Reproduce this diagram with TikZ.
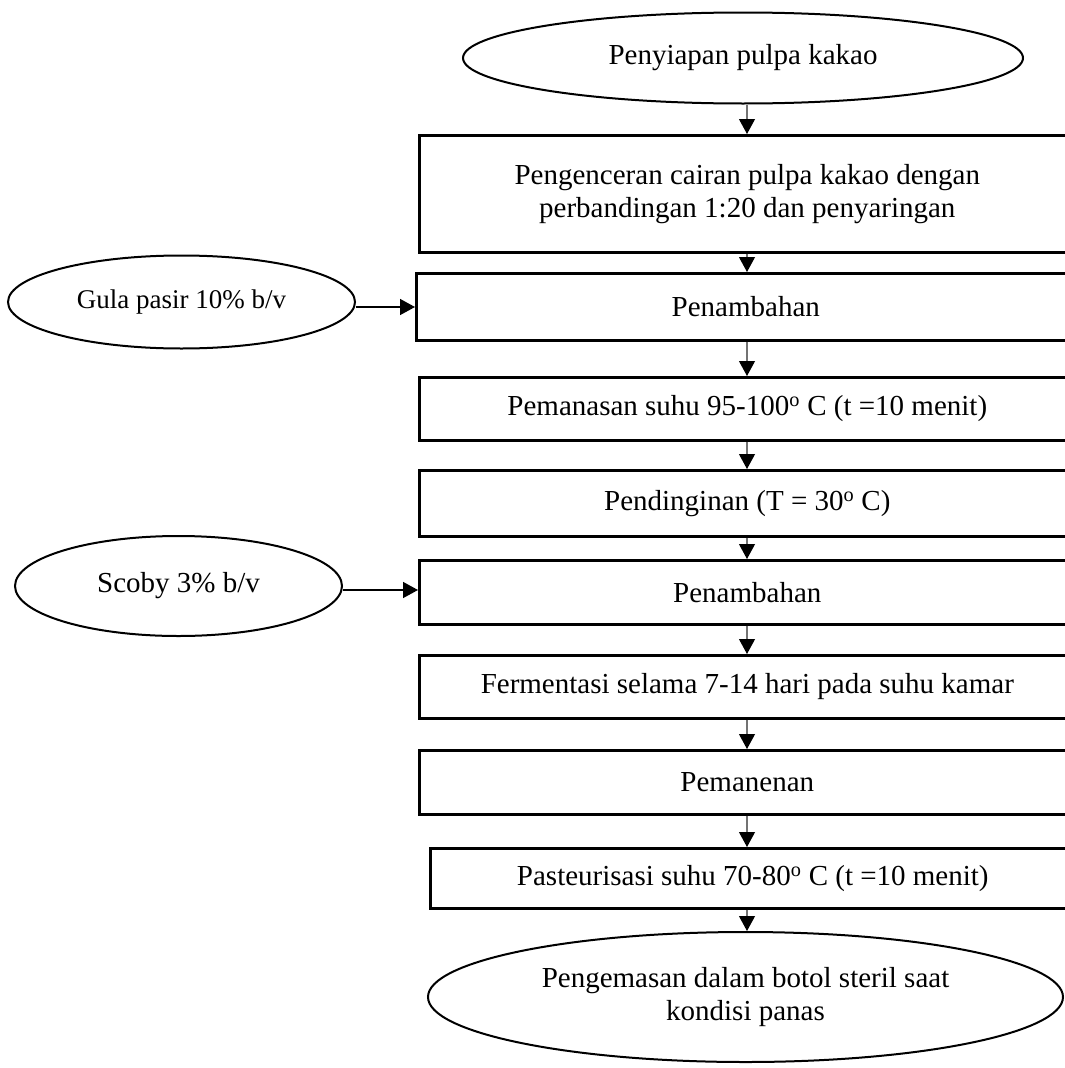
\documentclass[tikz,border=0pt]{standalone}
\usepackage{fontspec}
\setmainfont{Liberation Serif}
\usetikzlibrary{shapes.geometric,arrows.meta}
\begin{document}
\begin{tikzpicture}[x=1pt,y=-1pt,
  every node/.style={font=\fontsize{29}{33}\selectfont, align=center},
  box/.style={draw, line width=2.6pt, inner sep=0pt, anchor=north west},
  ell/.style={draw, ellipse, line width=2pt, inner sep=0pt},
  flow/.style={draw=black!55, line width=1.1pt, -{Triangle[length=15pt,width=16pt,color=black]}},
  side/.style={draw=black, line width=1.5pt, -{Triangle[length=15pt,width=16pt,color=black]}}
]
\useasboundingbox (0,0) rectangle (1065,1068);
\clip (0,0) rectangle (1065,1068);

\node[ell, minimum width=560pt, minimum height=91pt] (e0) at (743,58) {Penyiapan pulpa kakao};
\node[box, minimum width=656pt, minimum height=117pt] (b1) at (418,134) {Pengenceran cairan pulpa kakao dengan\\perbandingan 1:20 dan penyaringan};
\node[box, minimum width=659pt, minimum height=67pt] (b2) at (415,272) {Penambahan};
\node[ell, minimum width=347pt, minimum height=93pt, font=\fontsize{27}{31}\selectfont] (g) at (181.5,302) {Gula pasir 10\% b/v};
\node[box, minimum width=656pt, minimum height=63pt] (b3) at (418,376) {Pemanasan suhu 95-100\textsuperscript{o} C (t =10 menit)};
\node[box, minimum width=656pt, minimum height=66pt] (b4) at (418,469) {Pendinginan (T = 30\textsuperscript{o} C)};
\node[box, minimum width=656pt, minimum height=64pt] (b5) at (418,559) {Penambahan};
\node[ell, minimum width=327pt, minimum height=100pt] (s) at (178.5,586) {Scoby 3\% b/v};
\node[box, minimum width=656pt, minimum height=63pt] (b6) at (418,654) {Fermentasi selama 7-14 hari pada suhu kamar};
\node[box, minimum width=656pt, minimum height=64pt] (b7) at (418,749) {Pemanenan};
\node[box, minimum width=645pt, minimum height=60pt] (b8) at (429,847) {Pasteurisasi suhu 70-80\textsuperscript{o} C (t =10 menit)};
\node[ell, minimum width=635pt, minimum height=130pt] (e1) at (745.5,997) {Pengemasan dalam botol steril saat\\kondisi panas};

\coordinate (ax) at (747,0);
\draw[flow] (e0.south -| ax) -- (b1.north -| ax);
\draw[flow] (b1.south -| ax) -- (b2.north -| ax);
\draw[flow] (b2.south -| ax) -- (b3.north -| ax);
\draw[flow] (b3.south -| ax) -- (b4.north -| ax);
\draw[flow] (b4.south -| ax) -- (b5.north -| ax);
\draw[flow] (b5.south -| ax) -- (b6.north -| ax);
\draw[flow] (b6.south -| ax) -- (b7.north -| ax);
\draw[flow] (b7.south -| ax) -- (b8.north -| ax);
\draw[flow] (b8.south -| ax) -- (e1.north -| ax);
\draw[side] ([yshift=-5pt]g.east) -- ([yshift=-5pt]g.east -| b2.west);
\draw[side] ([yshift=-4pt]s.east) -- ([yshift=-4pt]s.east -| b5.west);
\end{tikzpicture}
\end{document}
